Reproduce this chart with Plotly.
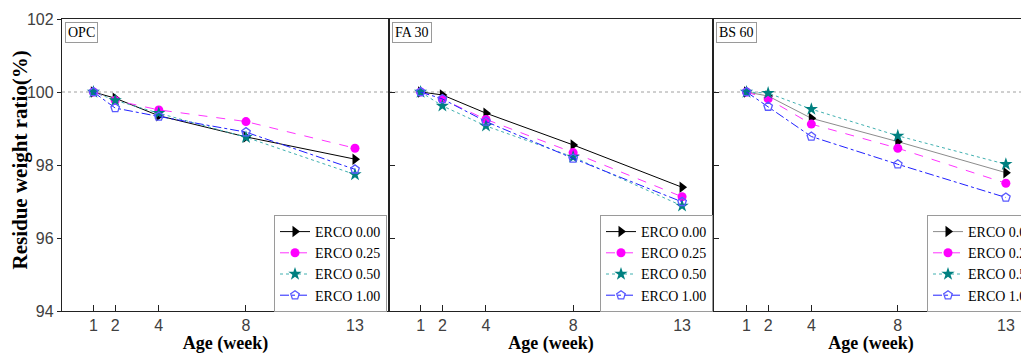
import plotly.graph_objects as go

weeks = [1, 2, 4, 8, 13]
panels = ["OPC", "FA 30", "BS 60"]
series_names = ["ERCO 0.00", "ERCO 0.25", "ERCO 0.50", "ERCO 1.00"]

opc_000 = [100.0, 99.83, 99.35, 98.77, 98.16]
opc_025 = [100.0, 99.77, 99.51, 99.19, 98.46]
opc_050 = [100.0, 99.77, 99.42, 98.76, 97.74]
opc_100 = [100.0, 99.56, 99.33, 98.90, 97.88]

fa_000 = [100.0, 99.92, 99.42, 98.55, 97.39]
fa_025 = [100.0, 99.80, 99.25, 98.34, 97.13]
fa_050 = [100.0, 99.62, 99.07, 98.22, 96.88]
fa_100 = [100.0, 99.81, 99.19, 98.18, 96.99]

bs_000 = [100.0, 99.89, 99.28, 98.64, 97.79]
bs_025 = [100.0, 99.81, 99.12, 98.46, 97.50]
bs_050 = [100.0, 99.97, 99.53, 98.80, 98.02]
bs_100 = [100.0, 99.60, 98.78, 98.02, 97.11]

panel_data = [
    [opc_000, opc_025, opc_050, opc_100],
    [fa_000, fa_025, fa_050, fa_100],
    [bs_000, bs_025, bs_050, bs_100],
]

y_ticks = [94, 96, 98, 100, 102]

# page body has an 8px margin; size the figure so the picture lines up
OFF = 8
W, H = 1029 - OFF, 354 - OFF
ML, MR, MT, MB = 62 - OFF, 0, 19 - OFF, 43
PW = W - ML - MR
PH = H - MT - MB
edges = [62, 389, 713, 1029]  # panel edges in picture pixels
dom = [((edges[i] - 62) / PW, (edges[i + 1] - 62) / PW) for i in range(3)]
x_ranges = [[-0.44, 14.56], [-0.45, 14.42], [-0.55, 14.07]]

styles = [
    dict(line=dict(color="black", width=1, dash="solid"),
         marker=dict(symbol="triangle-right", size=10, color="black")),
    dict(line=dict(color="#ff33ff", width=1, dash="dash"),
         marker=dict(symbol="circle", size=9, color="#ff00ff")),
    dict(line=dict(color="#40b0b0", width=1, dash="dot"),
         marker=dict(symbol="star", size=10, color="#008080")),
    dict(line=dict(color="#2020ff", width=1, dash="dashdot"),
         marker=dict(symbol="pentagon-open", size=9, color="#5a5aff",
                     line=dict(width=1.3))),
]

serif = "Liberation Serif, Times New Roman, serif"
narrow = "Liberation Sans Narrow, Arial Narrow, Liberation Sans, sans-serif"

fig = go.Figure()
legend_ids = ["legend", "legend2", "legend3"]
for p in range(3):
    xa = "x" if p == 0 else f"x{p+1}"
    ya = "y" if p == 0 else f"y{p+1}"
    for s in range(4):
        st = styles[s]
        line = dict(st["line"])
        if p == 2 and s == 0:
            line["color"] = "#8c8c8c"
        fig.add_trace(go.Scatter(
            x=weeks, y=panel_data[p][s], name=series_names[s],
            mode="lines+markers", line=line, marker=st["marker"],
            xaxis=xa, yaxis=ya, legend=legend_ids[p], showlegend=True,
        ))

layout = dict(
    width=W, height=H,
    margin=dict(l=ML, r=MR, t=MT, b=MB, autoexpand=False),
    plot_bgcolor="white", paper_bgcolor="white",
    font=dict(family=serif, color="black"),
)

for p in range(3):
    xk = "xaxis" if p == 0 else f"xaxis{p+1}"
    yk = "yaxis" if p == 0 else f"yaxis{p+1}"
    yanchor = "y" if p == 0 else f"y{p+1}"
    xanchor = "x" if p == 0 else f"x{p+1}"
    layout[xk] = dict(
        domain=list(dom[p]), range=x_ranges[p], anchor=yanchor, automargin=False,
        tickvals=weeks, ticktext=[str(w) for w in weeks],
        ticks="inside", ticklen=6, tickwidth=1, tickcolor="#222",
        showline=True, linecolor="#222", linewidth=1.4, mirror=True,
        showgrid=False, zeroline=False,
        tickfont=dict(family=narrow, size=16, color="#404040"),
        title=dict(text="<b>Age (week)</b>", font=dict(family=serif, size=18, color="black"),
                   standoff=2),
    )
    layout[yk] = dict(
        domain=[0, 1], range=[94, 102], anchor=xanchor, automargin=False,
        tickvals=y_ticks,
        ticks="outside" if p == 0 else "inside", ticklen=4 if p == 0 else 6,
        tickwidth=1, tickcolor="#222",
        showticklabels=(p == 0),
        showline=True, linecolor="#222", linewidth=1.4, mirror=(p < 2),
        showgrid=False, zeroline=False,
        tickfont=dict(family=narrow, size=16, color="#404040"),
    )

leg_common = dict(bgcolor="white", bordercolor="#9a9a9a", borderwidth=1,
                  font=dict(family=serif, size=14, color="black"),
                  itemwidth=30, tracegroupgap=0, yanchor="bottom")
leg_y = -1 / PH
layout["legend"] = dict(leg_common, x=(387 - 62) / PW, xanchor="right", y=leg_y)
layout["legend2"] = dict(leg_common, x=(713 - 62) / PW, xanchor="right", y=leg_y)
layout["legend3"] = dict(leg_common, x=(927 - 62) / PW, xanchor="left", y=leg_y)

fig.update_layout(**layout)

for p in range(3):
    xr = "x" if p == 0 else f"x{p+1}"
    yr = "y" if p == 0 else f"y{p+1}"
    fig.add_shape(type="line", xref=f"{xr} domain", yref=yr, x0=0, x1=1, y0=100, y1=100,
                  line=dict(color="#a0a0a0", width=1, dash="dot"), layer="below")
    fig.add_annotation(xref=f"{xr} domain", yref=f"{yr} domain", x=0.009, y=0.99,
                       xanchor="left", yanchor="top", text=panels[p], showarrow=False,
                       font=dict(family=serif, size=14, color="black"),
                       bordercolor="#9a9a9a", borderwidth=1, borderpad=2, bgcolor="white")

fig.add_annotation(xref="paper", yref="paper", x=(19.5 - 62) / PW, y=(311 - 160) / PH,
                   text="<b>Residue weight ratio(%)</b>", textangle=-90, showarrow=False,
                   xanchor="center", yanchor="middle",
                   font=dict(family=serif, size=21, color="black"))

fig.write_html("out.html")
